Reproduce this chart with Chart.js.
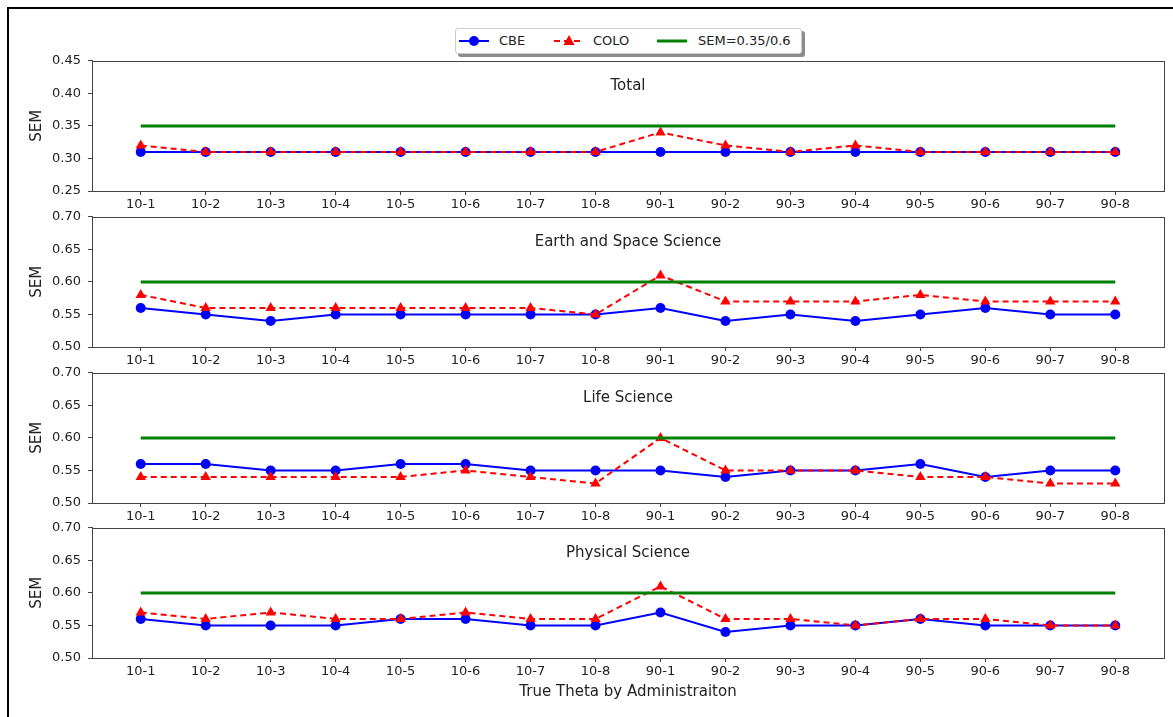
<!DOCTYPE html>
<html>
<head>
<meta charset="utf-8">
<script src="https://cdn.jsdelivr.net/npm/chart.js@4.4.1/dist/chart.umd.min.js"></script>
<style>
  body { margin: 0; background: #fff; overflow: hidden; width: 1173px; height: 717px; position: relative; font-family: "DejaVu Sans", sans-serif; }
  #frame { position: absolute; left: 7px; top: 7px; width: 1300px; height: 800px; border-left: 2px solid #000; border-top: 2px solid #000; }
  canvas { position: absolute; left: 0; }
  #legend { position: absolute; left: 455px; top: 28px; width: 345px; height: 24px; border: 1px solid #ccc; border-radius: 3px;
            background: #fff; box-shadow: 3px 3px 0 #8c8c8c; font-size: 13px; color: #222; }
  #legend .item { position: absolute; top: 0; height: 24px; line-height: 24px; white-space: nowrap; }
  #legend svg { position: absolute; top: 6px; }
</style>
</head>
<body>
<div id="frame"></div>
<div id="legend"></div>
<canvas id="c0" width="1173" height="170"></canvas>
<canvas id="c1" width="1173" height="170"></canvas>
<canvas id="c2" width="1173" height="170"></canvas>
<canvas id="c3" width="1173" height="195"></canvas>
<script>
const categories = ["10-1","10-2","10-3","10-4","10-5","10-6","10-7","10-8",
                    "90-1","90-2","90-3","90-4","90-5","90-6","90-7","90-8"];

const panelTitles = ["Total", "Earth and Space Science", "Life Science", "Physical Science"];
const thresholds = [0.35, 0.6, 0.6, 0.6];
const yTicksTotal = [0.25, 0.30, 0.35, 0.40, 0.45];
const yTicksDomain = [0.50, 0.55, 0.60, 0.65, 0.70];

const cbeTotal  = [0.31,0.31,0.31,0.31,0.31,0.31,0.31,0.31,0.31,0.31,0.31,0.31,0.31,0.31,0.31,0.31];
const coloTotal = [0.32,0.31,0.31,0.31,0.31,0.31,0.31,0.31,0.34,0.32,0.31,0.32,0.31,0.31,0.31,0.31];

const cbeEarth  = [0.56,0.55,0.54,0.55,0.55,0.55,0.55,0.55,0.56,0.54,0.55,0.54,0.55,0.56,0.55,0.55];
const coloEarth = [0.58,0.56,0.56,0.56,0.56,0.56,0.56,0.55,0.61,0.57,0.57,0.57,0.58,0.57,0.57,0.57];

const cbeLife   = [0.56,0.56,0.55,0.55,0.56,0.56,0.55,0.55,0.55,0.54,0.55,0.55,0.56,0.54,0.55,0.55];
const coloLife  = [0.54,0.54,0.54,0.54,0.54,0.55,0.54,0.53,0.60,0.55,0.55,0.55,0.54,0.54,0.53,0.53];

const cbePhys   = [0.56,0.55,0.55,0.55,0.56,0.56,0.55,0.55,0.57,0.54,0.55,0.55,0.56,0.55,0.55,0.55];
const coloPhys  = [0.57,0.56,0.57,0.56,0.56,0.57,0.56,0.56,0.61,0.56,0.56,0.55,0.56,0.56,0.55,0.55];

const seriesNames = ["CBE", "COLO", "SEM=0.35/0.6"];

const cbeData  = [cbeTotal, cbeEarth, cbeLife, cbePhys];
const coloData = [coloTotal, coloEarth, coloLife, coloPhys];
const yTicks   = [yTicksTotal, yTicksDomain, yTicksDomain, yTicksDomain];

const BLUE = "#0000ff", RED = "#ff0000", GREEN = "#008000", AXIS = "#444";

Chart.defaults.font.family = "'DejaVu Sans', sans-serif";
Chart.defaults.font.size = 13;
Chart.defaults.color = "#222";

// box around each plot plus the panel heading inside it
const boxPlugin = {
  id: "box",
  afterDraw(chart, args, opts) {
    const a = chart.chartArea, ctx = chart.ctx;
    ctx.save();
    ctx.strokeStyle = AXIS;
    ctx.lineWidth = 1;
    ctx.strokeRect(Math.round(a.left) + 0.5, Math.round(a.top) + 0.5,
                   Math.round(a.right - a.left), Math.round(a.bottom - a.top));
    ctx.fillStyle = "#222";
    ctx.font = "15px 'DejaVu Sans', sans-serif";
    ctx.textAlign = "center";
    ctx.textBaseline = "middle";
    ctx.fillText(opts.title, (a.left + a.right) / 2, a.top + 25);
    ctx.restore();
  }
};

const pts = arr => arr.map((v, i) => ({ x: i, y: v }));

const panelTops = [61, 217, 373, 528];
// chart area starts this far below the canvas top (layout padding + half a tick label)
const plotH = 130, padTop = 8, areaOffset = 15;

for (let p = 0; p < 4; p++) {
  const last = p === 3;
  const xH = last ? 50 : 26;
  const cv = document.getElementById("c" + p);
  cv.height = areaOffset + plotH + xH;
  cv.style.top = (panelTops[p] - areaOffset) + "px";

  new Chart(cv.getContext("2d"), {
    type: "line",
    data: {
      datasets: [
        { label: seriesNames[2], data: pts(categories.map(() => thresholds[p])),
          borderColor: GREEN, borderWidth: 3, pointRadius: 0, order: 0 },
        { label: seriesNames[1], data: pts(coloData[p]),
          borderColor: RED, backgroundColor: RED, borderWidth: 2, borderDash: [6, 4],
          pointStyle: "triangle", pointRadius: 6, pointBorderWidth: 0, order: 1 },
        { label: seriesNames[0], data: pts(cbeData[p]),
          borderColor: BLUE, backgroundColor: BLUE, borderWidth: 2,
          pointStyle: "circle", pointRadius: 5, pointBorderWidth: 0, order: 2 }
      ]
    },
    options: {
      responsive: false,
      animation: false,
      layout: { padding: { left: 0, right: 9, top: padTop, bottom: 0 } },
      plugins: {
        legend: { display: false },
        tooltip: { enabled: false },
        box: { title: panelTitles[p] }
      },
      scales: {
        x: {
          type: "linear",
          min: -0.75, max: 15.75,
          afterBuildTicks: s => { s.ticks = categories.map((c, i) => ({ value: i })); },
          afterFit: s => { s.height = xH; },
          ticks: { callback: v => categories[v], autoSkip: false, maxRotation: 0, padding: 2 },
          grid: { drawOnChartArea: false, drawTicks: true, tickLength: 4, color: AXIS },
          border: { display: true, color: AXIS },
          title: { display: last, text: "True Theta by Administraiton",
                   font: { size: 15 }, padding: { top: 0, bottom: 7 } }
        },
        y: {
          min: yTicks[p][0], max: yTicks[p][yTicks[p].length - 1],
          afterBuildTicks: s => { s.ticks = yTicks[p].map(v => ({ value: v })); },
          afterFit: s => { s.width = 92; },
          ticks: { callback: v => v.toFixed(2), padding: 7 },
          grid: { drawOnChartArea: false, drawTicks: true, tickLength: 4, color: AXIS },
          border: { display: true, color: AXIS },
          title: { display: true, text: "SEM", font: { size: 15 }, padding: { top: 28, bottom: 0 } }
        }
      }
    },
    plugins: [boxPlugin]
  });
}

// legend row: line samples with markers
const legend = document.getElementById("legend");
const legendItems = [
  { name: seriesNames[0], color: BLUE, dash: "", marker: "circle", lx: 3, tx: 43 },
  { name: seriesNames[1], color: RED, dash: "6 4", marker: "triangle", lx: 98, tx: 137 },
  { name: seriesNames[2], color: GREEN, dash: "", marker: null, lx: 201, tx: 242 }
];
legendItems.forEach(it => {
  let mk = "";
  if (it.marker === "circle") mk = `<circle cx="15" cy="6" r="5" fill="${it.color}"/>`;
  if (it.marker === "triangle") mk = `<polygon points="15,0 20.5,10 9.5,10" fill="${it.color}"/>`;
  const w = it.color === GREEN ? 3 : 2;
  legend.insertAdjacentHTML("beforeend",
    `<svg width="30" height="12" style="left:${it.lx}px">` +
    `<line x1="0" y1="6" x2="30" y2="6" stroke="${it.color}" stroke-width="${w}" stroke-dasharray="${it.dash}"/>${mk}</svg>` +
    `<span class="item" style="left:${it.tx}px">${it.name}</span>`);
});
</script>
</body>
</html>
